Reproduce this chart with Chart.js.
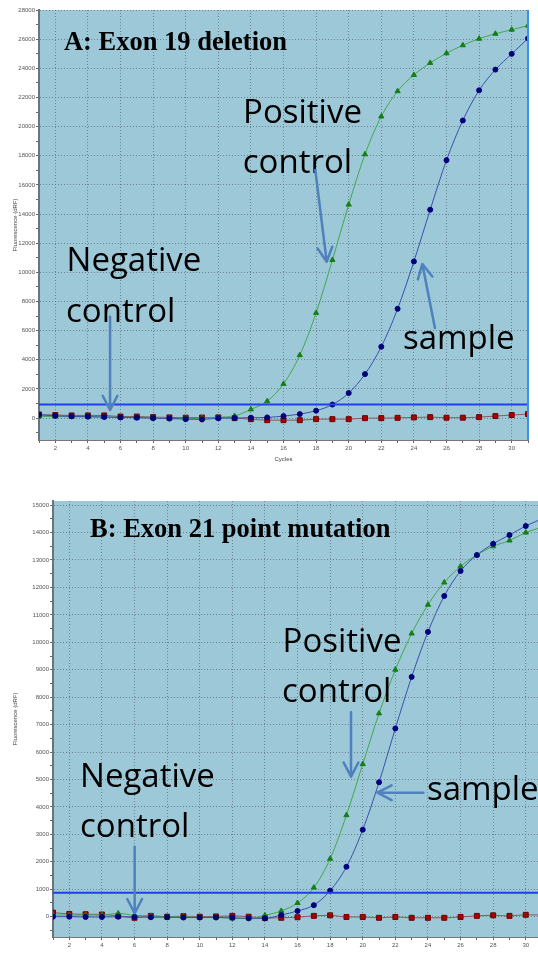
<!DOCTYPE html>
<html lang="en">
<head>
  <meta charset="UTF-8" />
  <title>EGFR real-time PCR amplification curves</title>
  <script src="https://cdn.jsdelivr.net/npm/chart.js"></script>
  <style>
    html, body { margin: 0; padding: 0; background: #fff; overflow: hidden; }
    body { width: 538px; height: 956px; position: relative; }
    canvas { position: absolute; left: 0; }
    #chartA { top: 0; }
    #chartB { top: 490px; }
  </style>
</head>
<body>

  <canvas id="chartA" width="538" height="470"></canvas>
  <canvas id="chartB" width="543" height="466"></canvas>

  <script>
    // cycles 1..31
    const cycles = [1, 2, 3, 4, 5, 6, 7, 8, 9, 10, 11, 12, 13, 14, 15, 16, 17, 18, 19, 20, 21, 22, 23, 24, 25, 26, 27, 28, 29, 30, 31];

    // A: Exon 19 deletion
    const aPositive = [110, 110, 90, 90, 70, 50, 30, 10, -20, -30, 0, 60, 150, 600, 1160, 2350, 4320, 7220, 10850, 14650, 18100, 20700, 22430, 23540, 24370, 25030, 25580, 26030, 26370, 26650, 26930];
    const aSample   = [220, 160, 120, 100, 80, 50, 30, 0, -30, -70, -90, 0, 10, 30, 50, 140, 280, 510, 930, 1720, 3020, 4900, 7500, 10750, 14300, 17700, 20420, 22490, 23910, 24990, 26050];
    const aNegative = [250, 210, 185, 185, 185, 110, 110, 70, 50, 30, 40, 50, 0, -70, -140, -140, -140, -70, -70, -70, 0, 0, 20, 50, 70, 30, 30, 70, 140, 210, 280];
    const aThreshold = 930;

    // B: Exon 21 point mutation
    const bPositive = [60, 60, 60, 60, 120, 50, 30, 0, 0, -20, -20, -60, -60, 50, 210, 500, 1060, 2110, 3700, 5560, 7410, 9000, 10320, 11370, 12180, 12770, 13180, 13500, 13710, 14000, 14200];
    const bSample   = [0, 0, -10, -10, 0, -10, -20, -20, -30, -30, -30, -40, -60, -60, 60, 210, 420, 950, 1820, 3170, 4900, 6860, 8740, 10380, 11690, 12600, 13180, 13590, 13910, 14240, 14500];
    const bNegative = [150, 100, 90, 80, 30, -40, 30, 0, 20, 0, 10, 30, 0, -50, -40, -20, 30, 50, -10, -10, -40, -10, -40, -40, -40, -10, 30, 50, 30, 70, 60];
    const bThreshold = 870;

    const plotColor = '#9cc8d8';
    const gridColor = 'rgba(95, 115, 125, 0.8)';
    const tickFont = { size: 6, family: 'Liberation Sans' };

    const pts = arr => arr.map((v, i) => ({ x: cycles[i], y: v }));

    // background, right edge, text labels and arrows
    const notesPlugin = {
      id: 'notes',
      beforeDraw(chart, args, opts) {
        const { ctx, chartArea: a } = chart;
        ctx.save();
        ctx.fillStyle = plotColor;
        ctx.fillRect(a.left, a.top, a.right - a.left, a.bottom - a.top);
        ctx.restore();
      },
      afterDatasetsDraw(chart, args, opts) {
        const { ctx, chartArea: a, scales: { x, y } } = chart;
        const px = p => [x.getPixelForValue(p[0]), y.getPixelForValue(p[1])];
        ctx.save();
        if (opts.rightEdge) {
          ctx.strokeStyle = '#3a8ff0';
          ctx.lineWidth = 2;
          ctx.beginPath();
          ctx.moveTo(a.right, a.top);
          ctx.lineTo(a.right, a.bottom);
          ctx.stroke();
        }
        ctx.fillStyle = '#000';
        ctx.textBaseline = 'alphabetic';
        ctx.textAlign = 'left';
        ctx.font = 'bold 26.5px "Liberation Serif"';
        let p = px(opts.title.at);
        ctx.fillText(opts.title.text, p[0], p[1]);
        ctx.font = '33px "Open Sans"';
        opts.labels.forEach(l => {
          p = px(l.at);
          ctx.fillText(l.text, p[0], p[1]);
        });
        ctx.strokeStyle = '#4f81bd';
        ctx.lineWidth = 2.5;
        ctx.lineCap = 'round';
        opts.arrows.forEach(ar => {
          const [x0, y0] = px(ar.from);
          const [x1, y1] = px(ar.to);
          const ang = Math.atan2(y1 - y0, x1 - x0);
          ctx.beginPath();
          ctx.moveTo(x0, y0);
          ctx.lineTo(x1, y1);
          [-1, 1].forEach(s => {
            ctx.moveTo(x1, y1);
            ctx.lineTo(x1 - 16 * Math.cos(ang + s * 0.48), y1 - 16 * Math.sin(ang + s * 0.48));
          });
          ctx.stroke();
        });
        ctx.restore();
      }
    };

    function makeDatasets(pos, samp, neg, thr) {
      return [
        {
          label: 'threshold', data: [{ x: 1, y: thr }, { x: 31, y: thr }],
          borderColor: '#1f3ff0', borderWidth: 2, pointRadius: 0
        },
        {
          label: 'sample', data: pts(samp),
          borderColor: '#3d4fae', borderWidth: 1, cubicInterpolationMode: 'monotone',
          pointStyle: 'circle', pointRadius: 2.5, pointBackgroundColor: '#00007a', pointBorderColor: '#00007a'
        },
        {
          label: 'positive control', data: pts(pos),
          borderColor: '#42a84e', borderWidth: 1, cubicInterpolationMode: 'monotone',
          pointStyle: 'triangle', pointRadius: 3, pointBackgroundColor: '#147f14', pointBorderColor: '#147f14'
        },
        {
          label: 'negative control', data: pts(neg),
          borderColor: '#8c5a5a', borderWidth: 1, cubicInterpolationMode: 'monotone',
          pointStyle: 'rect', pointRadius: 3.5, pointBackgroundColor: '#a80000', pointBorderColor: '#6e0000'
        }
      ];
    }

    function makeScales(o) {
      return {
        x: {
          type: 'linear', min: 1, max: o.xMax,
          afterBuildTicks: s => { s.ticks = o.xTicks.map(v => ({ value: v })); },
          afterFit: s => { s.height = o.xHeight; s.paddingLeft = 0; s.paddingRight = 0; },
          ticks: {
            autoSkip: false, maxRotation: 0, padding: 2, color: '#555', font: tickFont,
            callback: v => (v % 2 === 0 ? v : '')
          },
          grid: {
            color: c => (c.tick && c.tick.value % 2 === 0 ? gridColor : 'transparent'),
            tickColor: '#666', tickLength: 3
          },
          border: { color: '#777', width: 1, dash: [1, 2] },
          title: {
            display: o.xTitle, text: 'Cycles', color: '#444',
            font: { size: 6, family: 'Liberation Sans' }, padding: { top: 0, bottom: 7 }
          }
        },
        y: {
          type: 'linear', min: o.yMin, max: o.yMax,
          afterBuildTicks: s => { s.ticks = o.yTicks.map(v => ({ value: v })); },
          afterFit: s => { s.width = o.yWidth; },
          ticks: {
            autoSkip: false, padding: 1, color: '#555', font: tickFont,
            callback: v => (v % o.yLabelStep === 0 ? v : '')
          },
          grid: {
            color: c => (c.tick && c.tick.value % o.yLabelStep === 0 ? gridColor : 'transparent'),
            tickColor: '#666', tickLength: 3
          },
          border: { color: '#6a747a', width: 2, dash: [1, 2] },
          title: {
            display: true, text: 'Fluorescence (dRF)', color: '#444',
            font: { size: 6, family: 'Liberation Sans' }, padding: { top: 12, bottom: 0 }
          }
        }
      };
    }

    const aYTicks = [];
    for (let v = -1000; v <= 28000; v += 1000) aYTicks.push(v);
    const bYTicks = [];
    for (let v = -500; v <= 15000; v += 500) bYTicks.push(v);

    new Chart(document.getElementById('chartA'), {
      type: 'line',
      data: { datasets: makeDatasets(aPositive, aSample, aNegative, aThreshold) },
      options: {
        responsive: false, animation: false,
        layout: { padding: { top: 10, right: 10, left: 0, bottom: 0 } },
        scales: makeScales({
          xMax: 31, xTicks: cycles, xHeight: 30, xTitle: true,
          yMin: -1500, yMax: 28000, yTicks: aYTicks, yLabelStep: 2000, yWidth: 39
        }),
        plugins: {
          legend: { display: false },
          tooltip: { enabled: false },
          notes: {
            rightEdge: true,
            title: { text: 'A: Exon 19 deletion', at: [2.53, 25255] },
            labels: [
              { text: 'Positive', at: [13.52, 20269] },
              { text: 'control', at: [13.5, 16797] },
              { text: 'Negative', at: [2.69, 10095] },
              { text: 'control', at: [2.66, 6617] },
              { text: 'sample', at: [23.33, 4724] }
            ],
            arrows: [
              { from: [17.95, 17024], to: [18.65, 10733] },
              { from: [5.36, 6960], to: [5.36, 560] },
              { from: [25.29, 6185], to: [24.52, 10576] }
            ]
          }
        }
      },
      plugins: [notesPlugin]
    });

    new Chart(document.getElementById('chartB'), {
      type: 'line',
      data: { datasets: makeDatasets(bPositive, bSample, bNegative, bThreshold) },
      options: {
        responsive: false, animation: false,
        layout: { padding: { top: 11, right: 0, left: 0, bottom: 0 } },
        scales: makeScales({
          xMax: 30.75, xTicks: cycles.slice(0, 30), xHeight: 19, xTitle: false,
          yMin: -740, yMax: 15150, yTicks: bYTicks, yLabelStep: 1000, yWidth: 53
        }),
        plugins: {
          legend: { display: false },
          tooltip: { enabled: false },
          notes: {
            rightEdge: false,
            title: { text: 'B: Exon 21 point mutation', at: [3.27, 13849] },
            labels: [
              { text: 'Positive', at: [15.08, 9658] },
              { text: 'control', at: [15.05, 7837] },
              { text: 'Negative', at: [2.66, 4739] },
              { text: 'control', at: [2.66, 2895] },
              { text: 'sample', at: [23.94, 4254] }
            ],
            arrows: [
              { from: [19.28, 7450], to: [19.28, 5104] },
              { from: [6.01, 2553], to: [6.01, 126] },
              { from: [23.72, 4520], to: [20.9, 4520] }
            ]
          }
        }
      },
      plugins: [notesPlugin]
    });
  </script>

</body>
</html>
